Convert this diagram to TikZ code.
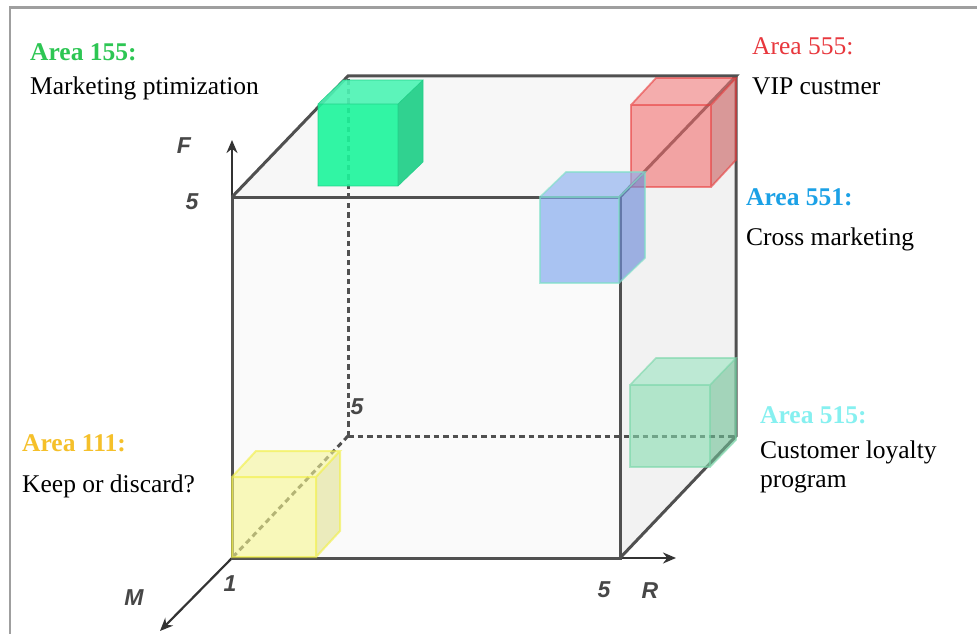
\documentclass[tikz,border=0pt]{standalone}
\usepackage{fontspec}
\setmainfont{Liberation Serif}
\newfontfamily\axfont{Liberation Sans}
\usetikzlibrary{arrows.meta,calc}
\definecolor{edgegray}{HTML}{505050}
\definecolor{cgreenA}{HTML}{2DC653}
\definecolor{credA}{HTML}{E8373D}
\definecolor{cblueA}{HTML}{1BA1E6}
\definecolor{ccyanA}{HTML}{86F0F0}
\definecolor{cgoldA}{HTML}{F5C02A}
\definecolor{gAf}{HTML}{1CF59B}\definecolor{gAt}{HTML}{4CF4B4}\definecolor{gAs}{HTML}{1BCF85}
\definecolor{rAf}{HTML}{F26A6A}\definecolor{rAt}{HTML}{F27878}\definecolor{rAs}{HTML}{C85858}\definecolor{rAe}{HTML}{E83A3A}
\definecolor{bAf}{HTML}{7FA6EE}\definecolor{bAt}{HTML}{8CB0F0}\definecolor{bAs}{HTML}{6E8CD8}\definecolor{bAe}{HTML}{7FE0C8}
\definecolor{gBf}{HTML}{86DDB0}\definecolor{gBt}{HTML}{9AE4C0}\definecolor{gBs}{HTML}{6FC096}\definecolor{gBe}{HTML}{78D6A8}
\definecolor{yAf}{HTML}{F8F890}\definecolor{yAt}{HTML}{F6F69A}\definecolor{yAs}{HTML}{E2E294}\definecolor{yAe}{HTML}{F2F040}
% small cube: #1 name, #2 x1, #3 y1, #4 x2, #5 y2, #6 dx, #7 dy, #8 front, #9 top
\newcommand\smallcube[9]{%
  \coordinate (#1-fl) at (#2,#5);
  \coordinate (#1-tl) at (#2,#3);
  \coordinate (#1-tr) at (#4,#3);
  \coordinate (#1-br) at (#4,#5);
  \coordinate (#1-btl) at ($(#1-tl)+(#6,#7)$);
  \coordinate (#1-btr) at ($(#1-tr)+(#6,#7)$);
  \coordinate (#1-bbr) at ($(#1-br)+(#6,#7)$);
  \fill[#8] (#1-fl) -- (#1-tl) -- (#1-tr) -- (#1-br) -- cycle;
  \fill[#9] (#1-tl) -- (#1-btl) -- (#1-btr) -- (#1-tr) -- cycle;
}
\newcommand\cubeside[3]{%
  \fill[#2] (#1-tr) -- (#1-btr) -- (#1-bbr) -- (#1-br) -- cycle;
  \draw[#3] (#1-fl) -- (#1-tl) -- (#1-tr) -- (#1-br) -- cycle
            (#1-tl) -- (#1-btl) -- (#1-btr) -- (#1-tr)
            (#1-btr) -- (#1-bbr) -- (#1-br);
}
\begin{document}
\begin{tikzpicture}[x=1pt,y=-1pt,
  edge/.style={draw=edgegray,line width=3pt},
  dashedge/.style={draw=edgegray,line width=3pt,dash pattern=on 5.5pt off 4pt},
  axarrow/.style={draw=black!80,line width=2.2pt,-{Stealth[length=13pt,width=11pt]}},
  axlab/.style={font=\axfont\bfseries\itshape\fontsize{23}{25}\selectfont,text=black!72,inner sep=0pt},
  lab/.style={anchor=base west,inner sep=0pt,font=\fontsize{25.5}{28}\selectfont},
  blab/.style={lab,font=\fontsize{25.5}{28}\selectfont\bfseries},
]
\useasboundingbox (0,0) rectangle (977,634);
\fill[white] (0,0) rectangle (977,634);
% outer frame (cropped at right and bottom)
\draw[gray!75,line width=2.8pt] (10,634) -- (10,7.5) -- (977,7.5);

% big cube corners
\coordinate (FBL) at (232,558);
\coordinate (FTL) at (232,197);
\coordinate (FTR) at (620,197);
\coordinate (FBR) at (620,558);
\coordinate (BBL) at (348,436);
\coordinate (BTL) at (348,76);
\coordinate (BTR) at (736,76);
\coordinate (BBR) at (736,436);

% faces
\fill[black!2] (FBL) -- (FTL) -- (FTR) -- (FBR) -- cycle;
\fill[black!3] (FTL) -- (BTL) -- (BTR) -- (FTR) -- cycle;
\fill[black!5] (FBR) -- (FTR) -- (BTR) -- (BBR) -- cycle;

% hidden edges
\draw[dashedge] (BBL) -- (BTL);
\draw[dashedge] (BBL) -- (BBR);
\draw[dashedge] (BBL) -- (FBL);

% axes
\coordinate (Ftip) at (232,140);
\coordinate (Rtip) at (676,558);
\coordinate (Mtip) at (160,631);
\draw[axarrow] (FBL) -- (Ftip);
\draw[axarrow] (FBR) -- (Rtip);
\draw[axarrow] (FBL) -- (Mtip);

% visible edges
\draw[edge] (FBL) -- (FTL) -- (FTR) -- (FBR) -- cycle;
\draw[edge] (FTL) -- (BTL) -- (BTR) -- (FTR);
\draw[edge] (BTR) -- (BBR) -- (FBR);

% small cubes
\begin{scope}[opacity=0.9]
\smallcube{gA}{318}{104}{398}{186}{25}{-24}{fill=gAf}{fill=gAt}
\cubeside{gA}{fill=gAs}{draw=gAs,line width=0.6pt}
\end{scope}
\begin{scope}[opacity=0.58]
\smallcube{rA}{631}{105}{711}{187}{25}{-27}{fill=rAf}{fill=rAt}
\cubeside{rA}{fill=rAs}{draw=rAe,line width=1.8pt}
\end{scope}
\begin{scope}[opacity=0.65]
\smallcube{bA}{540}{197}{619}{283}{26}{-25}{fill=bAf}{fill=bAt}
\cubeside{bA}{fill=bAs}{draw=bAe,line width=1.6pt}
\end{scope}
\begin{scope}[opacity=0.6]
\smallcube{gB}{630}{385}{710}{467}{26}{-27}{fill=gBf}{fill=gBt}
\cubeside{gB}{fill=gBs}{draw=gBe,line width=1.6pt}
\end{scope}
\begin{scope}[opacity=0.6]
\smallcube{yA}{232}{477}{316}{557}{24}{-26}{fill=yAf}{fill=yAt}
\cubeside{yA}{fill=yAs}{draw=yAe,line width=2pt}
\end{scope}

% axis labels
\node[axlab] (labF) at (184,146) {F};
\node[axlab] (labF5) at (192,202) {5};
\node[axlab] (labB5) at (357,407) {5};
\node[axlab] (labM1) at (230,584) {1};
\node[axlab] (labM) at (134,598) {M};
\node[axlab] (labR5) at (604,590) {5};
\node[axlab] (labR) at (650,591) {R};

% area labels
\node[blab,text=cgreenA] (a155) at (30,60) {Area 155:};
\node[lab] (t155) at (30,95) {Marketing ptimization};
\node[lab,text=credA] (a555) at (752,55) {Area 555:};
\node[lab] (t555) at (752,94) {VIP custmer};
\node[blab,text=cblueA] (a551) at (746,205) {Area 551:};
\node[lab] (t551) at (746,245) {Cross marketing};
\node[blab,text=ccyanA] (a515) at (760,423) {Area 515:};
\node[lab] (t515a) at (760,458) {Customer loyalty};
\node[lab] (t515b) at (760,487) {program};
\node[blab,text=cgoldA] (a111) at (22,451) {Area 111:};
\node[lab] (t111) at (22,492) {Keep or discard?};
\end{tikzpicture}
\end{document}
